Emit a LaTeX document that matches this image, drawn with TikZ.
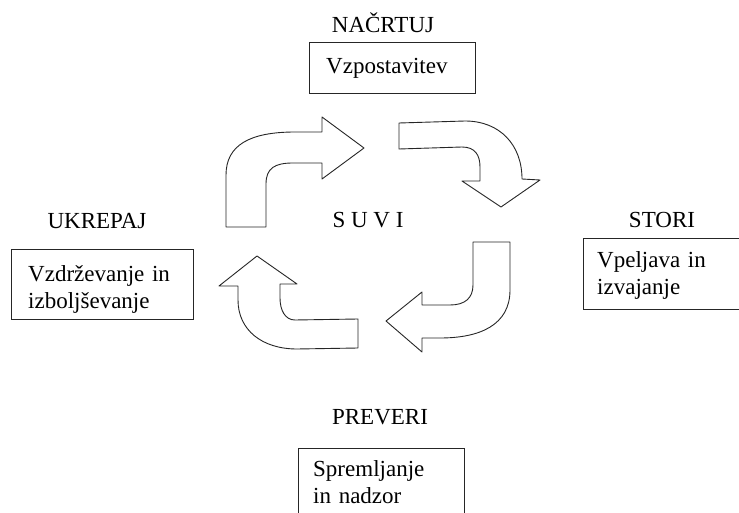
\documentclass[tikz,border=0pt]{standalone}
\usepackage{fontspec}
\setmainfont{Liberation Serif}
\begin{document}
\begin{tikzpicture}[x=1pt,y=-1pt,
  lbl/.style={font=\fontsize{23}{27}\selectfont, inner sep=0pt, anchor=base},
  frame/.style={draw=black!85, line width=1pt, inner sep=0pt},
  txt/.style={font=\fontsize{23}{27}\selectfont, inner sep=0pt, align=left, text width=170pt, anchor=base west},
  cyc/.style={draw=black!85, line width=0.9pt, fill=white, line join=round}]
\useasboundingbox (0,0) rectangle (739,513);

% labels
\node[lbl] (nacrtuj) at (383,33) {NAČRTUJ};
\node[lbl] (ukrepaj) at (97,229) {UKREPAJ};
\node[lbl] (stori) at (662,228) {STORI};
\node[lbl] (preveri) at (380,424) {PREVERI};
\node[lbl] (suvi) at (368,228) {S U V I};

% boxes
\node[frame, minimum width=166pt, minimum height=51pt] (topbox) at (392,68.5) {};
\node[txt] (toptxt) at (326,74) {Vzpostavitev};
\node[frame, minimum width=182pt, minimum height=69pt] (leftbox) at (102,284.5) {};
\node[txt] (lefttxt) at (28,281) {Vzdrževanje in\\izboljševanje};
\node[frame, minimum width=162pt, minimum height=70pt] (rightbox) at (664,274) {};
\node[txt] (righttxt) at (597,268) {Vpeljava in\\izvajanje};
\node[frame, minimum width=166pt, minimum height=82pt] (botbox) at (381,489) {};
\node[txt] (bottxt) at (313,476) {Spremljanje\\in nadzor};

% cycle arrows
\draw[cyc] (226,227) -- (226,175) .. controls (226,145) and (250,132) .. (295,132)
  -- (322,132) -- (322,117) -- (364,148) -- (322,179) -- (322,163) -- (293,163)
  .. controls (275,163) and (266,168) .. (266,184) -- (266,227) -- cycle;

\draw[cyc] (399,123) -- (465,121) .. controls (500,121) and (522,145) .. (522,179)
  -- (540,180) -- (501,207) -- (462,181) -- (480,181) -- (480,167)
  .. controls (480,155) and (475,147) .. (462,147) -- (399,149) -- cycle;

\draw[cyc] (473,242) -- (510,242) -- (510,290) .. controls (510,325) and (480,338) .. (440,338)
  -- (422,338) -- (422,352) -- (386,321) -- (422,292) -- (422,305) -- (450,305)
  .. controls (465,305) and (473,298) .. (473,285) -- cycle;

\draw[cyc] (358,319) -- (295,320) .. controls (285,320) and (280,310) .. (280,298)
  -- (280,284) -- (297,284) -- (257,256) -- (219,286) -- (238,286) -- (238,300)
  .. controls (238,330) and (262,349) .. (297,349) -- (358,348) -- cycle;
\end{tikzpicture}
\end{document}
